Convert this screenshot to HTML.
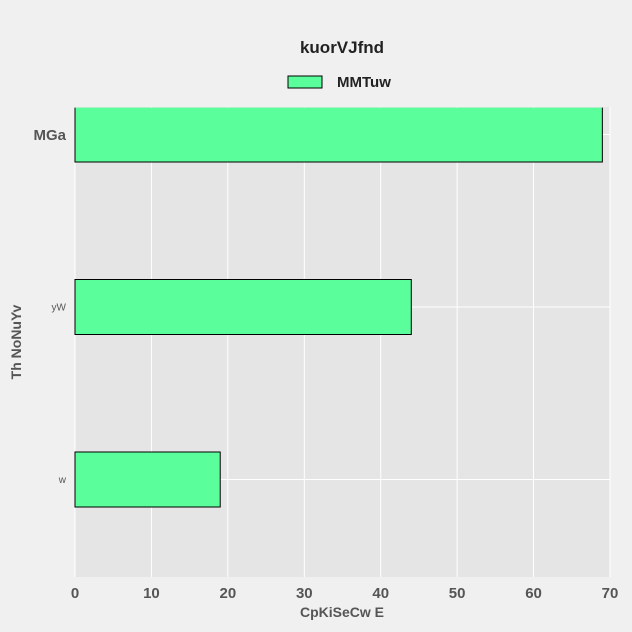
<!DOCTYPE html>
<html><head><meta charset="utf-8"><style>
body{margin:0;background:#f0f0f0}
svg{display:block;font-family:"Liberation Sans",sans-serif;font-weight:bold}
</style></head><body>
<svg id="c" width="632" height="632">
<rect width="632" height="632" fill="#f0f0f0"/>
<defs><clipPath id="pc"><rect x="74" y="107.6" width="537" height="470"/></clipPath></defs>
<rect x="75" y="107" width="535" height="470" fill="#e5e5e5"/>
<g id="grid"></g>
<g id="bars" clip-path="url(#pc)"></g>
<g id="axes"></g>
<text x="342" y="53" text-anchor="middle" font-size="17" fill="#222">kuorVJfnd</text>
<rect x="288" y="76" width="34" height="12" fill="#5aff9b" stroke="#000" stroke-width="1"/>
<text x="337" y="87" font-size="15" fill="#222">MMTuw</text>
<text x="342" y="617" text-anchor="middle" font-size="14" fill="#555">CpKiSeCw E</text>
<text transform="translate(21,342) rotate(-90)" text-anchor="middle" font-size="14" fill="#555">Th NoNuYv</text>
</svg>
<script>
const categories = ["MGa", "yW", "w"];
const values = [69, 44, 19];
const xTicks = [0, 10, 20, 30, 40, 50, 60, 70];
const catFontSize = [15, 10, 10];
const NS = "http://www.w3.org/2000/svg";
const x = v => 75 + v * (535 / 70);
const y = i => 134.5 + i * 172.5;
function mk(tag, attrs, parent, text) {
  const e = document.createElementNS(NS, tag);
  for (const k in attrs) e.setAttribute(k, attrs[k]);
  if (text !== undefined) e.textContent = text;
  parent.appendChild(e);
  return e;
}
const grid = document.getElementById('grid'), bars = document.getElementById('bars'), axes = document.getElementById('axes');
xTicks.forEach(t => {
  const l = mk('line', {x1: x(t), x2: x(t), y1: 107, y2: 577, stroke: '#fff', 'stroke-width': 1}, grid);
  
  
  const tx = mk('text', {x: x(t), y: 598, 'text-anchor': 'middle', 'font-size': 15, fill: '#555'}, axes, t);
  
  
});
categories.forEach((c, i) => {
  const l = mk('line', {x1: 75, x2: 610, y1: y(i), y2: y(i), stroke: '#fff', 'stroke-width': 1}, grid);
  
  
  const r = mk('rect', {x: x(0), y: y(i) - 27.5, width: x(values[i]) - x(0), height: 55, fill: '#5aff9b', stroke: '#000', 'stroke-width': 1}, bars);
  
  
  const tx = mk('text', {x: 66, y: y(i) + catFontSize[i] * 0.35, 'text-anchor': 'end', 'font-size': catFontSize[i], fill: '#555', 'font-weight': i ? 'normal' : 'bold'}, axes, c);
  
  
});
</script>
</body></html>
